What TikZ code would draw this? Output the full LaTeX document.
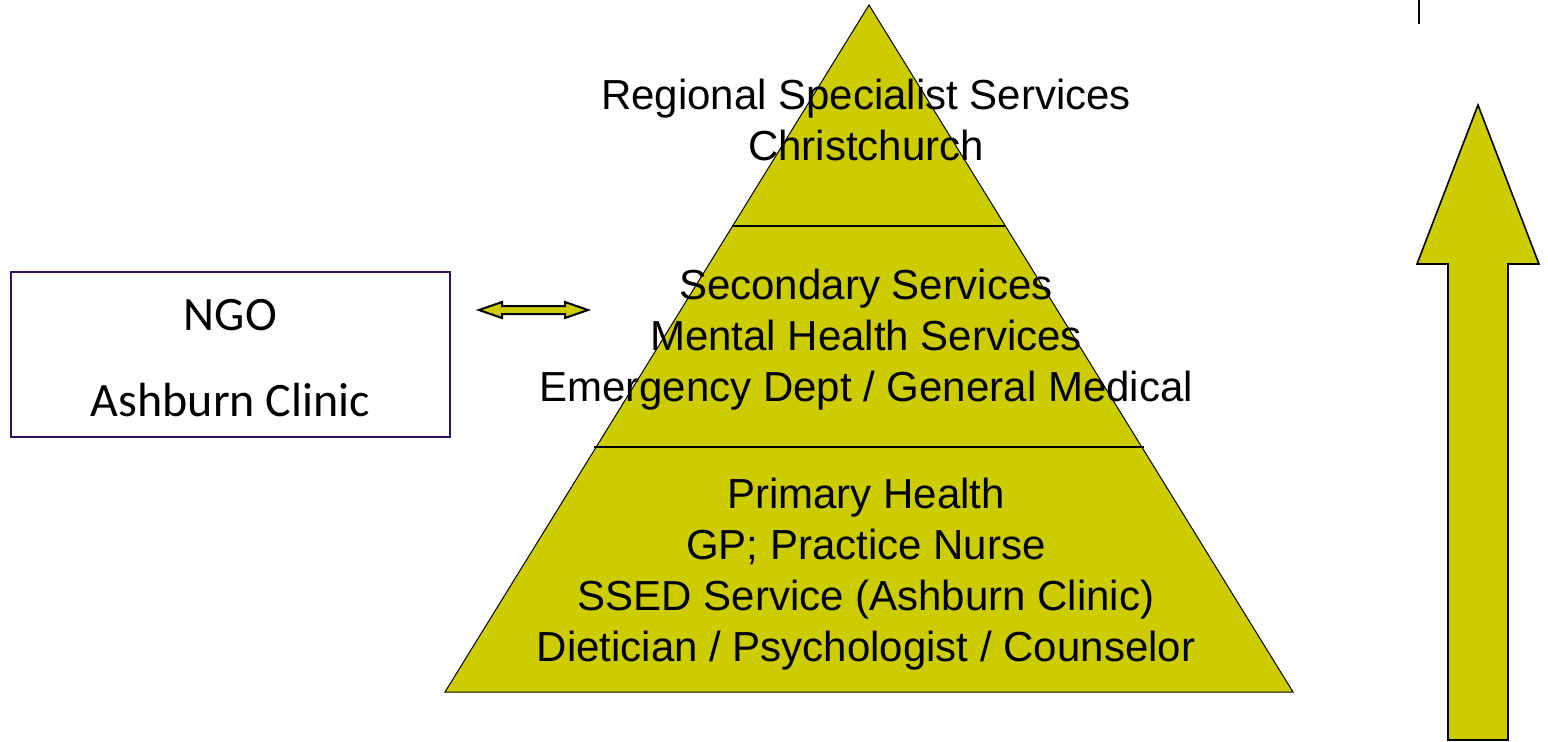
\documentclass[tikz,border=0pt]{standalone}
\usepackage{fontspec}
\setmainfont{Liberation Sans}
\newfontfamily\calfont{Carlito}
\definecolor{olive}{RGB}{204,204,0}
\definecolor{boxpurple}{RGB}{48,16,96}
\begin{document}
\begin{tikzpicture}[x=0.5pt,y=-0.5pt,
  tiertext/.style={align=center,font=\fontsize{21}{25.5}\selectfont,inner sep=0pt},
  shapefill/.style={fill=olive,draw=black},
  ngobox/.style={draw=boxpurple,line width=1pt,minimum width=219.5pt,minimum height=82.5pt,inner sep=0pt}]
\useasboundingbox (0,0) rectangle (1548,741);
% pyramid
\coordinate (apex) at (869,5);
\coordinate (bl) at (445,692);
\coordinate (br) at (1293,692);
\filldraw[shapefill,line width=0.5pt] (apex) -- (br) -- (bl) -- cycle;
\draw[line width=0.6pt] (732.6,226) -- (1005.4,226);
\draw[line width=0.6pt] (594.2,447) -- (1143.8,447);
\node[tiertext] (top) at (866,120) {Regional Specialist Services\\Christchurch};
\node[tiertext] (mid) at (866,340) {Secondary Services\\Mental Health Services\\Emergency Dept / General Medical};
\node[tiertext] (bot) at (866,574) {Primary Health\\GP; Practice Nurse\\SSED Service (Ashburn Clinic)\\Dietician / Psychologist / Counselor};
% NGO box
\node[ngobox] (ngo) at (230.5,354.5) {};
\node[font=\calfont\fontsize{24}{24}\selectfont,inner sep=0pt] (ngot) at (230.5,315) {NGO};
\node[font=\calfont\fontsize{24}{24}\selectfont,inner sep=0pt] (asht) at (230.5,400) {Ashburn Clinic};
% double arrow
\filldraw[shapefill,line width=1pt,line join=miter] (479,310) -- (502,302) -- (502,306) -- (565,306) -- (565,302) -- (588,310) -- (565,318) -- (565,314) -- (502,314) -- (502,318) -- cycle;
% up arrow
\filldraw[shapefill,line width=0.8pt] (1478,105) -- (1539,264) -- (1508,264) -- (1508,740) -- (1448,740) -- (1448,264) -- (1417,264) -- cycle;
% small tick
\draw[line width=1pt] (1419,0) -- (1419,24);
\end{tikzpicture}
\end{document}
